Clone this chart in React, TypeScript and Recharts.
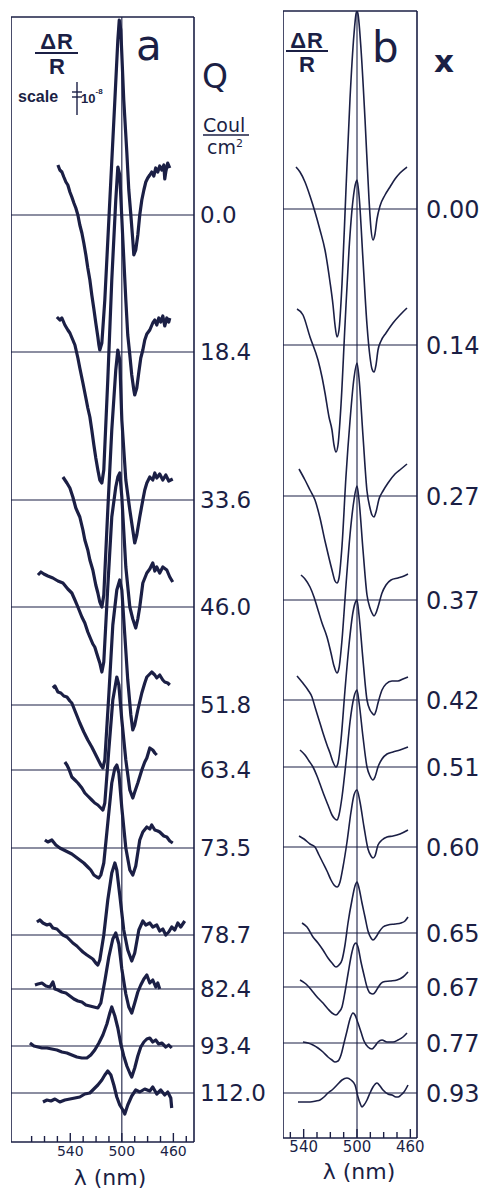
import { LineChart, Line, XAxis, YAxis, ReferenceLine } from 'recharts'

const INK = '#1b1f45'
const FONT = 'DejaVu Sans, Verdana, sans-serif'

// panel a: measured electroreflectance, Q in Coul/cm2
const qLabels = ['0.0', '18.4', '33.6', '46.0', '51.8', '63.4', '73.5', '78.7', '82.4', '93.4', '112.0']
// stacking offsets of each trace (arb. units, same as ΔR/R)
const qOffsets = [927, 790, 642, 535, 437, 372, 294, 207, 153, 96, 49]

// panel b: calculated, x
const xLabels = ['0.00', '0.14', '0.27', '0.37', '0.42', '0.51', '0.60', '0.65', '0.67', '0.77', '0.93']
const xOffsets = [929, 793, 642, 538, 438, 371, 291, 205, 151, 95, 45]

const waveTicksA = [570, 560, 550, 540, 530, 520, 510, 500, 490, 480, 470, 460, 450]
const waveTicksB = [550, 540, 530, 520, 510, 500, 490, 480, 470, 460]
const waveLabels = [540, 500, 460]

type Pt = [number, number] // [λ nm, ΔR/R arb.]

// ---- measured traces (panel a) ----
const measQ0: Pt[] = [
  [549.6, 50], [548.1, 45], [546.5, 43], [545.0, 38], [543.4, 33], [541.9, 30], [540.3, 23], [538.8, 18],
  [537.2, 12], [535.7, 7], [534.1, 0], [532.6, -10], [531.0, -18], [529.5, -28], [527.9, -40], [526.4, -53],
  [524.8, -65], [523.3, -80], [521.7, -94], [520.2, -108], [518.6, -122], [517.8, -130], [517.1, -135],
  [515.5, -128], [513.2, -85], [509.3, 15], [505.4, 115], [503.1, 175], [502.0, 195], [500.8, 185],
  [498.5, 115], [496.1, 62], [494.6, 25], [493.0, 0], [491.5, -25], [490.7, -40], [489.2, -35], [487.6, -20],
  [486.1, 0], [484.5, 15], [482.9, 25], [481.4, 33], [479.9, 37], [478.3, 40], [476.8, 43], [475.2, 39],
  [473.7, 47], [472.1, 43], [470.6, 49], [469.0, 45], [467.4, 50], [466.7, 36], [465.9, 43], [464.4, 52], [462.8, 47],
]
const measQ1: Pt[] = [
  [550.4, 35], [548.1, 32], [546.5, 34], [544.2, 27], [541.9, 22], [540.3, 19], [538.0, 12], [536.4, 7],
  [534.1, -6], [532.6, -16], [530.2, -31], [527.9, -46], [526.4, -56], [524.8, -65], [523.3, -78], [521.7, -93],
  [520.2, -106], [518.6, -118], [517.1, -128], [515.5, -131], [514.0, -118], [510.9, -28], [507.8, 72],
  [504.7, 152], [503.1, 185], [501.6, 177], [499.2, 112], [496.9, 52], [495.4, 17], [493.8, -3], [492.3, -23],
  [490.7, -38], [490.0, -43], [488.4, -36], [486.8, -20], [485.3, -6], [483.7, 2], [482.2, 12], [480.6, 18],
  [478.3, 22], [476.0, 29], [474.4, 32], [472.9, 27], [471.3, 34], [469.8, 30], [468.2, 36], [466.7, 26],
  [465.1, 34], [463.6, 30], [462.8, 34],
]
const measQ2: Pt[] = [
  [545.7, 23], [542.6, 17], [540.3, 12], [538.0, 3], [535.7, -8], [532.6, -17], [530.2, -30], [528.7, -40],
  [526.4, -50], [524.8, -60], [522.5, -70], [520.2, -85], [518.6, -93], [517.1, -102], [515.5, -107],
  [514.0, -95], [510.9, -10], [507.8, 70], [504.7, 130], [503.1, 150], [501.6, 140], [500.0, 80], [496.9, 20],
  [493.8, -10], [491.5, -30], [490.0, -43], [488.4, -35], [486.1, -17], [483.7, 0], [482.2, 10], [480.6, 17],
  [478.3, 23], [476.0, 20], [474.4, 27], [472.9, 22], [470.6, 26], [468.2, 20], [465.9, 25], [463.6, 19], [460.5, 21],
]
const measQ3: Pt[] = [
  [565.1, 32], [562.8, 35], [560.5, 33], [557.4, 31], [553.5, 29], [549.6, 26], [545.7, 24], [541.9, 18],
  [538.8, 14], [536.4, 7], [534.1, 0], [531.0, -10], [528.7, -16], [526.4, -25], [524.8, -30], [522.5, -37],
  [521.0, -40], [518.6, -50], [517.1, -56], [515.5, -65], [514.0, -55], [510.9, 20], [507.8, 90], [504.7, 120],
  [503.1, 130], [501.6, 134], [500.0, 110], [496.9, 40], [493.8, 0], [491.5, -12], [489.2, -21], [487.6, -12],
  [486.1, 0], [483.7, 24], [480.6, 34], [478.3, 38], [476.0, 44], [474.4, 36], [472.9, 40], [470.6, 34],
  [468.2, 40], [465.1, 37], [462.8, 30], [460.5, 25],
]
const measQ4: Pt[] = [
  [553.5, 17], [551.9, 19], [549.6, 13], [547.3, 12], [545.0, 9], [542.6, 8], [540.3, 4], [538.8, 2],
  [535.7, -8], [532.6, -18], [529.5, -27], [526.4, -35], [523.3, -42], [519.4, -52], [516.3, -60], [514.7, -63],
  [513.2, -55], [510.1, 10], [507.0, 80], [503.9, 115], [501.6, 125], [500.0, 115], [497.7, 70], [495.4, 25],
  [493.0, -10], [491.5, -25], [490.0, -20], [487.6, -5], [484.5, 12], [482.2, 22], [480.6, 28], [478.3, 31],
  [476.8, 33], [474.4, 30], [472.9, 27], [470.6, 30], [468.2, 25], [466.7, 23], [464.4, 22], [462.8, 20],
]
const measQ5: Pt[] = [
  [544.2, 8], [542.6, 5], [541.1, 1], [538.8, -7], [536.4, -10], [534.1, -13], [531.0, -18], [528.7, -23],
  [526.4, -26], [523.3, -30], [521.0, -33], [518.6, -35], [516.3, -38], [514.7, -40], [513.2, -33], [510.1, 20],
  [507.0, 70], [503.9, 93], [502.3, 85], [500.0, 50], [496.9, 10], [493.8, -20], [491.5, -28], [490.0, -22],
  [487.6, -13], [484.5, 0], [482.2, 8], [480.6, 12], [478.3, 22], [476.0, 20], [474.4, 17], [472.9, 15],
]
const measQ6: Pt[] = [
  [559.7, 8], [557.4, 6], [554.3, 8], [551.2, 3], [548.1, 0], [545.0, -2], [541.9, -4], [538.8, -6],
  [535.7, -9], [532.6, -12], [529.5, -15], [526.4, -19], [524.1, -22], [521.7, -27], [519.4, -29], [517.8, -30],
  [516.3, -27], [514.0, -15], [510.9, 25], [507.8, 65], [505.4, 80], [503.9, 83], [502.3, 75], [500.0, 40],
  [496.9, 0], [493.8, -22], [491.5, -27], [489.2, -18], [486.1, 8], [483.7, 16], [480.6, 21], [478.3, 19],
  [476.8, 23], [474.4, 18], [472.1, 17], [470.6, 16], [467.4, 12], [465.1, 11], [462.8, 7], [460.5, 5],
]
const measQ7: Pt[] = [
  [565.9, 13], [563.6, 15], [561.2, 12], [558.1, 10], [555.8, 11], [553.5, 7], [550.4, 6], [548.1, 3],
  [545.7, 0], [542.6, -2], [540.3, -5], [538.0, -8], [534.9, -11], [532.6, -14], [530.2, -17], [527.1, -20],
  [524.8, -22], [522.5, -24], [520.2, -28], [518.6, -30], [517.1, -25], [514.0, 0], [510.9, 35], [507.8, 62],
  [505.4, 72], [503.9, 65], [501.6, 40], [498.5, 5], [495.4, -15], [492.3, -26], [490.0, -18], [486.8, 5],
  [483.7, 14], [481.4, 10], [478.3, 12], [476.0, 8], [472.9, 10], [470.6, 4], [468.2, 6], [465.9, 0],
  [463.6, 3], [461.3, 8], [458.9, 5], [456.6, 12], [454.3, 8], [451.2, 14],
]
const measQ8: Pt[] = [
  [567.4, 4], [565.1, 5], [562.0, 6], [558.9, 3], [555.8, 2], [553.5, 7], [551.9, 0], [549.6, -1],
  [546.5, -3], [543.4, -4], [540.3, -7], [537.2, -10], [534.1, -12], [531.0, -13], [527.9, -16], [524.8, -17],
  [521.7, -18], [518.6, -19], [516.3, -14], [513.2, 8], [510.1, 32], [507.0, 50], [504.7, 56], [502.3, 45],
  [500.0, 20], [496.9, -5], [494.6, -18], [492.3, -24], [490.0, -14], [487.6, -3], [485.3, 4], [482.9, 10],
  [480.6, 14], [478.3, 6], [476.0, 9], [473.7, 2], [472.1, 6], [470.6, 0],
]
const measQ9: Pt[] = [
  [571.3, 3], [568.2, 0], [565.1, -1], [562.0, -2], [558.1, -2], [554.3, -3], [550.4, -4], [546.5, -6],
  [542.6, -7], [538.8, -9], [534.9, -11], [531.0, -12], [527.1, -12], [524.1, -9], [521.0, -4], [517.8, 3],
  [514.7, 11], [511.6, 22], [509.3, 33], [507.8, 39], [505.4, 30], [503.1, 18], [500.8, 2], [498.5, -10],
  [496.1, -20], [493.8, -27], [492.3, -31], [490.0, -22], [487.6, -10], [485.3, -1], [482.9, 4], [480.6, 7],
  [478.3, 8], [476.0, 4], [473.7, 6], [471.4, 2], [469.0, 3], [465.9, -1], [463.6, 1], [461.3, -2],
]
const measQ10: Pt[] = [
  [561.2, -9], [558.1, -7], [555.0, -8], [551.9, -6], [548.1, -9], [544.2, -7], [540.3, -6], [536.4, -5],
  [532.6, -4], [528.7, -1], [524.8, 0], [521.7, 4], [518.6, 8], [515.5, 13], [513.2, 18], [510.9, 22],
  [508.5, 18], [506.2, 8], [503.9, -4], [501.6, -12], [499.2, -17], [497.7, -21], [495.4, -12], [492.3, -3],
  [489.2, 3], [486.1, 1], [482.2, 4], [478.3, 2], [476.0, 6], [472.9, -1], [469.8, 3], [466.7, -2],
  [464.4, 1], [462.0, -5], [461.3, -15],
]

// ---- calculated traces (panel b) ----
const calcX0: Pt[] = [
  [545.75, 42], [542.75, 37], [539.0, 27], [535.25, 13], [531.5, -3], [527.75, -21], [524.0, -41], [520.25, -73],
  [518.0, -96], [516.5, -116], [515.0, -128], [513.5, -121], [511.25, -75], [508.25, 20], [505.25, 110],
  [502.25, 175], [500.75, 195], [500, 198], [499.25, 195], [497.0, 160], [494.0, 90], [491.0, 10], [489.5, -20],
  [488.0, -31], [486.5, -25], [485.0, -10], [482.75, 3], [479.0, 14], [475.25, 22], [471.5, 30], [467.75, 36], [462.5, 42],
]
const calcX1: Pt[] = [
  [545.0, 36], [540.5, 30], [535.25, 8], [529.25, -15], [526.25, -32], [524.0, -48], [521.0, -72], [518.75, -85],
  [517.25, -100], [515.75, -107], [514.25, -100], [512.0, -60], [509.0, 20], [506.0, 95], [503.0, 145],
  [500.75, 163], [500, 165], [498.5, 150], [495.5, 85], [492.5, 20], [490.25, -12], [488.75, -24], [487.25, -27],
  [485.75, -20], [484.25, -5], [482.0, 4], [478.25, 12], [473.0, 22], [467.75, 30], [462.5, 37],
]
const calcX2: Pt[] = [
  [543.5, 27], [539.0, 16], [535.25, 6], [531.5, -4], [527.75, -22], [524.0, -45], [521.0, -62], [518.75, -74],
  [516.5, -85], [515.0, -87], [513.5, -82], [511.25, -50], [508.25, 20], [505.25, 75], [502.25, 118], [500, 133],
  [498.5, 118], [495.5, 60], [492.5, 5], [490.25, -12], [488.75, -19], [487.25, -21], [485.75, -16], [483.5, -3],
  [480.5, 5], [476.75, 13], [471.5, 22], [467.0, 27], [462.5, 32],
]
const calcX3: Pt[] = [
  [542.0, 25], [539.0, 21], [535.25, 13], [532.25, 3], [529.25, -10], [526.25, -23], [522.5, -37], [519.5, -53],
  [517.25, -66], [515.0, -73], [513.5, -68], [511.25, -40], [508.25, 15], [505.25, 65], [502.25, 100], [500, 114],
  [498.5, 100], [495.5, 50], [492.5, 5], [490.25, -8], [488.75, -13], [487.25, -16], [485.75, -13], [484.25, -7],
  [481.25, 7], [478.25, 15], [474.5, 20], [469.25, 22], [464.75, 24], [461.75, 26],
]
const calcX4: Pt[] = [
  [545.0, 24], [541.25, 18], [536.75, 10], [533.75, 3], [531.5, -7], [528.5, -20], [525.5, -33], [522.5, -45],
  [520.25, -53], [518.0, -62], [515.75, -67], [514.25, -63], [512.0, -40], [509.0, 10], [506.0, 55], [503.0, 88],
  [500.75, 99], [500, 100], [498.5, 85], [495.5, 40], [492.5, 0], [490.25, -10], [488.75, -13], [487.25, -15],
  [485.75, -11], [484.25, -3], [481.25, 10], [478.25, 16], [473.75, 19], [469.25, 19], [465.5, 21], [461.75, 23],
]
const calcX5: Pt[] = [
  [542.75, 17], [539.0, 12], [536.0, 6], [533.0, 0], [530.0, -9], [527.75, -17], [524.75, -28], [521.75, -38],
  [518.75, -48], [516.5, -52], [515.0, -53], [513.5, -48], [511.25, -30], [508.25, 5], [505.25, 45], [502.25, 70],
  [500, 77], [498.5, 65], [495.5, 30], [492.5, 0], [490.25, -9], [488.0, -13], [486.5, -10], [484.25, 0],
  [481.25, 8], [477.5, 13], [473.0, 15], [467.75, 17], [461.75, 20],
]
const calcX6: Pt[] = [
  [543.5, 11], [539.75, 8], [535.25, 3], [531.5, 0], [528.5, -8], [525.5, -16], [522.5, -24], [519.5, -33],
  [517.25, -38], [515.0, -40], [512.75, -35], [510.5, -20], [507.5, 5], [504.5, 35], [502.25, 52], [500, 57],
  [497.75, 45], [494.75, 20], [491.75, -2], [489.5, -9], [488.0, -11], [486.5, -9], [484.25, 2], [481.25, 7],
  [477.5, 10], [473.0, 11], [467.75, 13], [461.75, 17],
]
const calcX7: Pt[] = [
  [541.25, 10], [537.5, 6], [533.0, -4], [529.25, -10], [525.5, -17], [521.75, -25], [518.75, -30], [515.75, -34],
  [513.5, -32], [511.25, -27], [509.0, -12], [506.75, 10], [503.75, 33], [501.5, 47], [500, 51], [498.5, 45],
  [496.25, 30], [494.0, 16], [491.75, 2], [489.5, -5], [488.0, -7], [485.75, -4], [483.5, 1], [480.5, 6],
  [476.75, 8], [471.5, 9], [467.0, 10], [464.0, 12], [461.75, 16],
]
const calcX8: Pt[] = [
  [542.75, 7], [538.25, 3], [533.0, -5], [529.25, -11], [525.5, -16], [521.75, -22], [518.75, -26], [515.75, -28],
  [513.5, -25], [511.25, -20], [509.0, -5], [506.75, 13], [503.75, 35], [502.25, 42], [500.75, 44], [499.25, 40],
  [497.0, 25], [494.75, 12], [492.5, 0], [490.25, -6], [488.0, -7], [485.75, -4], [483.5, 1], [480.5, 5],
  [475.25, 6], [470.0, 7], [465.5, 10], [461.75, 15],
]
const calcX9: Pt[] = [
  [540.5, 1], [536.75, 0], [533.0, -2], [529.25, -5], [525.5, -9], [521.75, -14], [518.75, -17], [516.5, -19],
  [514.25, -18], [512.0, -12], [509.75, 0], [507.5, 12], [505.25, 24], [503.0, 30], [501.5, 28], [499.25, 20],
  [497.0, 11], [494.75, 2], [491.75, -4], [488.75, -6], [486.5, -3], [484.25, 1], [481.25, 3], [477.5, 1],
  [473.0, 1], [469.25, 3], [465.5, 6], [462.5, 10],
]
const calcX10: Pt[] = [
  [544.25, -9], [539.75, -9], [535.25, -9], [530.75, -8], [527.75, -7], [524.75, -4], [521.75, 0], [518.75, 3],
  [515.0, 8], [511.25, 13], [507.5, 15], [504.5, 13], [501.5, 8], [499.25, -4], [497.75, -10], [496.25, -14],
  [494.75, -12], [492.5, -7], [490.25, 0], [488.0, 6], [485.0, 10], [482.75, 7], [480.5, 3], [476.75, -1],
  [473.75, -2], [470.75, -4], [469.25, -4], [467.0, -2], [464.75, 1], [461.75, 8],
]

const measured = [measQ0, measQ1, measQ2, measQ3, measQ4, measQ5, measQ6, measQ7, measQ8, measQ9, measQ10]
const calculated = [calcX0, calcX1, calcX2, calcX3, calcX4, calcX5, calcX6, calcX7, calcX8, calcX9, calcX10]

const stack = (pts: Pt[], offset: number) => pts.map(([nm, d]) => ({ nm, v: d + offset }))

function WaveTick(props: any) {
  const { x, y, payload, size } = props
  const major = waveLabels.includes(payload.value)
  return (
    <g>
      <line x1={x} x2={x} y1={y} y2={y - (major ? 9 : 6)} stroke={INK} strokeWidth={1.4} />
      {major && (
        <text x={x} y={y + 14} textAnchor="middle" fontSize={size} fontFamily={FONT} fill={INK}>
          {payload.value}
        </text>
      )}
    </g>
  )
}

function Panel({
  width, left, top, bottomAxis, rightAxis, domainX, topY, offsets, labels, traces, xTicks, labelSize,
  tickGap, traceWidth, curve, labelTick,
}: any) {
  return (
    <div style={{ position: 'absolute', left, top: 0 }}>
      <LineChart width={width} height={1191} margin={{ top, left: 0, right: 0, bottom: 0 }}>
        <XAxis
          type="number" dataKey="nm" domain={domainX} reversed allowDataOverflow
          ticks={xTicks} interval={0} tickSize={0} tickMargin={0} height={bottomAxis}
          axisLine={{ stroke: INK, strokeWidth: 1.6 }}
          tick={(p: any) => <WaveTick {...p} size={labelTick} />}
        />
        <YAxis
          type="number" orientation="right" domain={[0, topY]} allowDataOverflow
          ticks={offsets} interval={0} tickSize={0} tickMargin={tickGap} width={rightAxis}
          axisLine={{ stroke: INK, strokeWidth: 1.6 }}
          tickFormatter={(v: number) => labels[offsets.indexOf(v)]}
          tick={{ fill: INK, fontSize: labelSize, fontFamily: FONT }}
        />
        <ReferenceLine x={domainX[1]} stroke={INK} strokeWidth={1.6} />
        <ReferenceLine y={topY} stroke={INK} strokeWidth={1.6} />
        {offsets.map((o: number) => (
          <ReferenceLine key={o} y={o} stroke={INK} strokeWidth={1.1} />
        ))}
        <ReferenceLine x={500} stroke={INK} strokeWidth={1.1} />
        {traces.map((t: Pt[], i: number) => (
          <Line
            key={i} data={stack(t, offsets[i])} dataKey="v" type={curve}
            stroke={INK} strokeWidth={traceWidth} strokeLinejoin="round" dot={false} activeDot={false}
            isAnimationActive={false}
          />
        ))}
      </LineChart>
    </div>
  )
}

export default function App() {
  return (
    <div style={{ position: 'absolute', left: 0, top: 0, width: 489, height: 1191, background: '#fff' }}>
      <Panel
        width={259} left={11} top={17} bottomAxis={49} rightAxis={76} domainX={[444, 586]} topY={1125}
        offsets={qOffsets} labels={qLabels} traces={measured} xTicks={waveTicksA} labelSize={23}
        tickGap={6} traceWidth={3.2} curve="linear" labelTick={14}
      />
      <Panel
        width={206} left={283} top={11} bottomAxis={53} rightAxis={72} domainX={[455, 555.5]} topY={1127}
        offsets={xOffsets} labels={xLabels} traces={calculated} xTicks={waveTicksB} labelSize={24}
        tickGap={9} traceWidth={1.6} curve="monotone" labelTick={15}
      />
      <svg width={489} height={1191} style={{ position: 'absolute', left: 0, top: 0, pointerEvents: 'none' }}>
        <g fill={INK} fontFamily={FONT}>
          {/* panel a header */}
          <text x={57} y={49} textAnchor="middle" fontSize={22} fontWeight="bold" fontFamily="Liberation Sans, Arial" letterSpacing={1}>ΔR</text>
          <line x1={35} x2={78} y1={53} y2={53} stroke={INK} strokeWidth={2} />
          <text x={57} y={74} textAnchor="middle" fontSize={22} fontWeight="bold" fontFamily="Liberation Sans, Arial">R</text>
          <text x={18} y={102} fontSize={16} fontWeight="bold" fontFamily="Liberation Sans, Arial">scale</text>
          <line x1={77} x2={77} y1={82} y2={115} stroke={INK} strokeWidth={1.4} />
          <line x1={72} x2={82} y1={92} y2={92} stroke={INK} strokeWidth={1.4} />
          <line x1={72} x2={82} y1={97} y2={97} stroke={INK} strokeWidth={1.4} />
          <text x={81} y={103} fontSize={13} fontWeight="bold" fontFamily="Liberation Sans, Arial">
            10<tspan dy={-9} fontSize={8}>-8</tspan>
          </text>
          <text x={136} y={60} fontSize={42}>a</text>
          <text x={202} y={88} fontSize={33}>Q</text>
          <text x={203} y={132} fontSize={19}>Coul</text>
          <line x1={203} x2={249} y1={135} y2={135} stroke={INK} strokeWidth={1.5} />
          <text x={207} y={154} fontSize={19}>
            cm<tspan dy={-7} fontSize={11}>2</tspan>
          </text>
          {/* panel b header */}
          <text x={307} y={48} textAnchor="middle" fontSize={22} fontWeight="bold" fontFamily="Liberation Sans, Arial" letterSpacing={1}>ΔR</text>
          <line x1={286} x2={328} y1={51} y2={51} stroke={INK} strokeWidth={2} />
          <text x={307} y={72} textAnchor="middle" fontSize={22} fontWeight="bold" fontFamily="Liberation Sans, Arial">R</text>
          <text x={372} y={62} fontSize={42}>b</text>
          <text x={434} y={72} fontSize={31} fontWeight="bold">x</text>
          {/* axis titles */}
          <text x={110} y={1185} textAnchor="middle" fontSize={22}>λ (nm)</text>
          <text x={359} y={1179} textAnchor="middle" fontSize={22}>λ (nm)</text>
        </g>
      </svg>
    </div>
  )
}
